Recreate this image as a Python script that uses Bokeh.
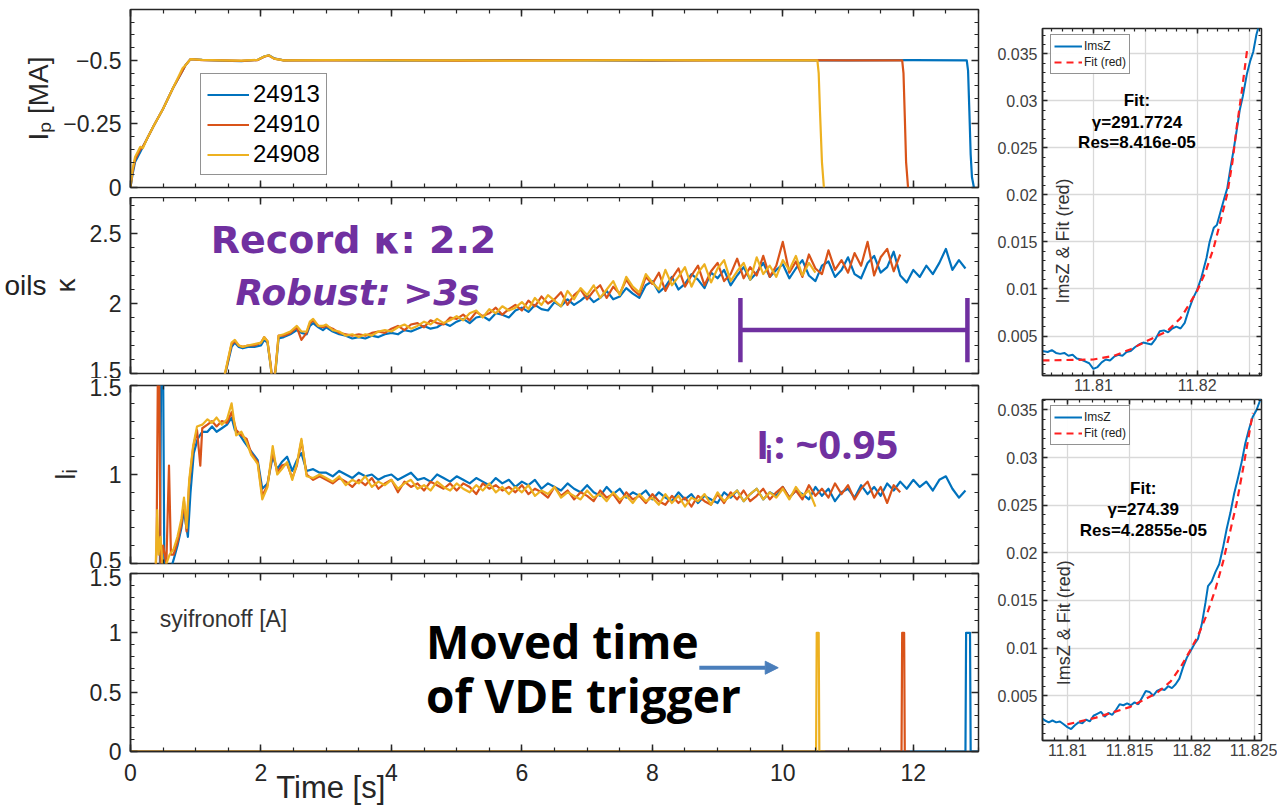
from bokeh.plotting import figure
from bokeh.models import (Range1d, FixedTicker, LinearAxis, Label, Legend,
                          LegendItem, Arrow, NormalHead)
from bokeh.layouts import row, column
from bokeh.embed import file_html
from bokeh.resources import INLINE

BLUE = "#0072BD"; ORANGE = "#D95319"; YELLOW = "#EDB120"
PURPLE = "#7030A0"; AXC = "#262626"; ARROW_BLUE = "#4A7EBB"
TICKF = "Liberation Sans"

shots = ["24913", "24910", "24908"]

# ---------------- Ip [MA] ----------------
ip_t_blue = [0.0, 0.03, 0.07, 0.11, 0.15, 0.19, 0.25, 0.35, 0.5, 0.65, 0.8, 0.84, 0.92, 1.1, 1.4, 1.7,
             1.95, 2.05, 2.12, 2.2, 2.35, 3.0, 4.0, 5.0, 6.0, 7.0, 8.0, 9.0, 10.0, 11.0, 12.0,
             12.82, 12.84, 12.86, 12.88, 12.90, 12.93]
ip_blue = [0.0, -0.05, -0.10, -0.12, -0.14, -0.16, -0.19, -0.24, -0.31, -0.39, -0.46, -0.48, -0.505,
           -0.502, -0.499, -0.497, -0.502, -0.515, -0.52, -0.508, -0.5, -0.501, -0.499, -0.5, -0.501,
           -0.5, -0.499, -0.501, -0.5, -0.5, -0.501, -0.5, -0.46, -0.3, -0.13, -0.04, 0.0]
ip_t_orange = [0.0, 0.03, 0.07, 0.11, 0.15, 0.19, 0.25, 0.35, 0.5, 0.65, 0.8, 0.84, 0.92, 1.1, 1.4, 1.7,
               1.95, 2.05, 2.12, 2.2, 2.35, 3.0, 4.0, 5.0, 6.0, 7.0, 8.0, 9.0, 10.0, 11.0, 11.5,
               11.83, 11.85, 11.87, 11.89, 11.92]
ip_orange = [0.0, -0.06, -0.11, -0.13, -0.15, -0.16, -0.19, -0.24, -0.31, -0.39, -0.46, -0.48, -0.505,
             -0.501, -0.5, -0.498, -0.501, -0.514, -0.519, -0.507, -0.5, -0.5, -0.501, -0.499, -0.5,
             -0.501, -0.5, -0.5, -0.501, -0.5, -0.5, -0.5, -0.45, -0.28, -0.1, 0.0]
ip_t_yellow = [0.0, 0.03, 0.07, 0.11, 0.15, 0.19, 0.25, 0.35, 0.5, 0.65, 0.8, 0.84, 0.92, 1.1, 1.4, 1.7,
               1.95, 2.05, 2.12, 2.2, 2.35, 3.0, 4.0, 5.0, 6.0, 7.0, 8.0, 9.0, 10.0, 10.3,
               10.53, 10.55, 10.57, 10.60, 10.63]
ip_yellow = [0.0, -0.07, -0.12, -0.14, -0.16, -0.155, -0.19, -0.24, -0.31, -0.39, -0.47, -0.48, -0.505,
             -0.502, -0.5, -0.499, -0.502, -0.515, -0.52, -0.507, -0.5, -0.501, -0.5, -0.5, -0.499,
             -0.5, -0.501, -0.5, -0.5, -0.5, -0.5, -0.45, -0.3, -0.1, 0.0]

# ---------------- kappa ----------------
k_early_t = [1.40, 1.48, 1.55, 1.60, 1.66, 1.72, 1.80, 1.90, 2.00, 2.05, 2.10, 2.15, 2.18, 2.22, 2.27,
             2.35, 2.45, 2.55, 2.62, 2.70, 2.75, 2.80, 2.88, 2.95]
k_early_blue = [1.40, 1.55, 1.69, 1.72, 1.69, 1.68, 1.69, 1.69, 1.70, 1.74, 1.72, 1.55, 1.42, 1.50, 1.75,
                1.76, 1.78, 1.81, 1.79, 1.78, 1.84, 1.86, 1.83, 1.81]
k_early_orange = [1.40, 1.56, 1.71, 1.73, 1.70, 1.69, 1.70, 1.70, 1.72, 1.76, 1.73, 1.56, 1.41, 1.52, 1.77,
                  1.77, 1.79, 1.83, 1.74, 1.79, 1.86, 1.88, 1.84, 1.83]
k_early_yellow = [1.40, 1.57, 1.72, 1.74, 1.70, 1.69, 1.70, 1.71, 1.72, 1.76, 1.73, 1.55, 1.40, 1.51, 1.77,
                  1.78, 1.80, 1.84, 1.80, 1.80, 1.87, 1.89, 1.84, 1.84]
# samples every 0.1 s from t = 3.0 s
k_late_blue = [1.83, 1.80, 1.78, 1.77, 1.75, 1.76, 1.75, 1.77, 1.76, 1.78,
               1.79, 1.78, 1.81, 1.80, 1.82, 1.84, 1.82, 1.83, 1.86, 1.84,
               1.87, 1.89, 1.86, 1.90, 1.91, 1.88, 1.93, 1.92, 1.90, 1.95,
               1.97, 1.94, 1.99, 1.96, 1.95, 2.01, 1.98, 2.03, 1.99, 2.02,
               2.06, 2.01, 2.04, 2.09, 2.03, 2.05, 2.11, 2.07, 2.04, 2.13,
               2.16, 2.08, 2.12, 2.19, 2.10, 2.14, 2.21, 2.17, 2.11, 2.22,
               2.18, 2.24, 2.13, 2.20, 2.26, 2.17, 2.22, 2.29, 2.19, 2.24,
               2.28, 2.18, 2.25, 2.31, 2.20, 2.16, 2.27, 2.30, 2.19, 2.24,
               2.33, 2.21, 2.18, 2.29, 2.34, 2.22, 2.26, 2.37, 2.20, 2.15,
               2.24, 2.19, 2.27, 2.21, 2.29, 2.39, 2.24, 2.31, 2.25]
k_late_orange = [1.84, 1.82, 1.79, 1.78, 1.77, 1.78, 1.77, 1.79, 1.80, 1.79,
                 1.82, 1.84, 1.81, 1.85, 1.86, 1.83, 1.88, 1.86, 1.85, 1.90,
                 1.89, 1.92, 1.88, 1.94, 1.91, 1.93, 1.97, 1.92, 1.96, 1.99,
                 1.95, 2.02, 1.98, 2.05, 2.00, 2.03, 2.08, 1.99, 2.06, 2.10,
                 2.03, 2.09, 2.13, 2.04, 2.12, 2.07, 2.17, 2.10, 2.06, 2.19,
                 2.14, 2.22, 2.09, 2.18, 2.25, 2.12, 2.20, 2.27, 2.13, 2.23,
                 2.29, 2.16, 2.21, 2.32, 2.18, 2.26, 2.20, 2.34, 2.19, 2.27,
                 2.44, 2.22, 2.30, 2.19, 2.35, 2.25, 2.21, 2.38, 2.24, 2.31,
                 2.22, 2.36, 2.27, 2.44, 2.20, 2.33, 2.39, 2.23, 2.35]
k_late_yellow = [1.85, 1.81, 1.80, 1.77, 1.78, 1.76, 1.78, 1.77, 1.80, 1.81,
                 1.80, 1.83, 1.85, 1.82, 1.84, 1.87, 1.85, 1.89, 1.86, 1.88,
                 1.91, 1.88, 1.93, 1.95, 1.90, 1.96, 1.93, 1.98, 1.95, 1.97,
                 2.01, 1.96, 2.04, 1.99, 2.06, 2.02, 1.98, 2.09, 2.03, 2.11,
                 2.06, 2.13, 2.04, 2.10, 2.16, 2.06, 2.19, 2.12, 2.08, 2.21,
                 2.15, 2.10, 2.24, 2.13, 2.19, 2.26, 2.12, 2.22, 2.28, 2.15,
                 2.25, 2.31, 2.16, 2.23, 2.29, 2.17, 2.33, 2.21, 2.27, 2.19,
                 2.31, 2.24, 2.34, 2.20, 2.29, 2.22]

# ---------------- li ----------------
li_early_t_blue = [0.43, 0.45, 0.47, 0.50, 0.52, 0.56, 0.60, 0.66, 0.72, 0.78, 0.82, 0.85, 0.88, 0.92,
                   0.97, 1.03, 1.10, 1.18, 1.25, 1.32, 1.40, 1.48, 1.55, 1.60, 1.68, 1.75, 1.85, 1.95,
                   2.02, 2.10, 2.18, 2.25, 2.32, 2.40, 2.48, 2.55, 2.62, 2.70, 2.80, 2.90]
li_early_blue = [0.40, 0.45, 1.60, 1.60, 0.40, 0.42, 0.45, 0.52, 0.60, 0.70, 0.80, 0.72, 0.65, 0.90,
                 1.12, 1.20, 1.24, 1.24, 1.27, 1.24, 1.26, 1.28, 1.32, 1.25, 1.22, 1.18, 1.13, 1.08,
                 0.92, 0.95, 1.10, 1.03, 1.07, 1.10, 1.02, 1.08, 1.12, 1.02, 1.03, 1.01]
li_early_t_orange = [0.38, 0.40, 0.42, 0.44, 0.46, 0.50, 0.55, 0.59, 0.62, 0.66, 0.72, 0.78, 0.82, 0.86,
                     0.90, 0.96, 1.02, 1.07, 1.10, 1.18, 1.25, 1.32, 1.40, 1.48, 1.55, 1.62, 1.70, 1.78,
                     1.85, 1.95, 2.02, 2.10, 2.18, 2.25, 2.32, 2.40, 2.48, 2.55, 2.62, 2.70, 2.80, 2.90]
li_early_orange = [0.40, 0.60, 1.60, 1.60, 0.50, 0.60, 0.50, 1.05, 0.55, 0.55, 0.62, 0.72, 0.85, 0.68,
                   0.95, 1.15, 1.25, 1.05, 1.26, 1.28, 1.30, 1.27, 1.30, 1.29, 1.35, 1.25, 1.22, 1.20,
                   1.12, 1.07, 0.88, 0.94, 1.13, 1.01, 1.05, 1.06, 0.98, 1.05, 1.19, 1.00, 0.97, 0.99]
li_early_t_yellow = [0.38, 0.41, 0.43, 0.46, 0.50, 0.55, 0.60, 0.66, 0.72, 0.78, 0.82, 0.86, 0.90, 0.96,
                     1.02, 1.10, 1.18, 1.25, 1.32, 1.40, 1.48, 1.55, 1.62, 1.70, 1.78, 1.85, 1.95, 2.02,
                     2.10, 2.18, 2.25, 2.32, 2.40, 2.48, 2.55, 2.62, 2.70, 2.80, 2.90]
li_early_yellow = [0.40, 0.80, 0.55, 0.65, 0.45, 0.50, 0.55, 0.58, 0.65, 0.75, 0.87, 0.70, 0.97, 1.16,
                   1.27, 1.28, 1.31, 1.29, 1.32, 1.28, 1.31, 1.40, 1.22, 1.24, 1.18, 1.11, 1.06, 0.86,
                   0.93, 1.16, 1.00, 1.03, 1.07, 0.97, 1.06, 1.20, 0.99, 0.98, 1.00]
# samples every 0.1 s from t = 3.0 s
li_late_blue = [1.01, 0.99, 1.02, 1.00, 0.98, 1.01, 0.99, 1.00, 0.97, 0.99,
                1.00, 0.97, 0.99, 1.01, 0.97, 0.98, 0.96, 1.00, 0.98, 0.96,
                0.99, 0.97, 0.95, 0.98, 0.96, 0.94, 0.98, 0.95, 0.97, 0.93,
                0.96, 0.94, 0.97, 0.92, 0.95, 0.93, 0.91, 0.95, 0.92, 0.90,
                0.94, 0.90, 0.88, 0.93, 0.89, 0.92, 0.87, 0.90, 0.88, 0.91,
                0.86, 0.90, 0.87, 0.85, 0.90, 0.86, 0.89, 0.84, 0.88, 0.86,
                0.84, 0.90, 0.87, 0.91, 0.85, 0.89, 0.92, 0.86, 0.90, 0.88,
                0.93, 0.87, 0.91, 0.89, 0.86, 0.93, 0.88, 0.92, 0.85, 0.90,
                0.92, 0.87, 0.94, 0.89, 0.93, 0.88, 0.95, 0.91, 0.96, 0.92,
                0.97, 0.93, 0.96, 0.91, 0.97, 0.99, 0.92, 0.87, 0.91]
li_late_orange = [0.97, 0.95, 0.98, 0.96, 0.93, 0.97, 0.94, 0.98, 0.92, 0.95,
                  0.97, 0.90, 0.96, 0.93, 0.95, 0.91, 0.96, 0.94, 0.92, 0.95,
                  0.91, 0.95, 0.93, 0.89, 0.95, 0.92, 0.94, 0.91, 0.93, 0.90,
                  0.94, 0.89, 0.92, 0.90, 0.87, 0.93, 0.88, 0.91, 0.86, 0.90,
                  0.88, 0.85, 0.91, 0.87, 0.89, 0.84, 0.90, 0.86, 0.88, 0.84,
                  0.89, 0.85, 0.83, 0.88, 0.84, 0.87, 0.82, 0.88, 0.85, 0.83,
                  0.89, 0.84, 0.90, 0.86, 0.91, 0.85, 0.88, 0.92, 0.86, 0.90,
                  0.93, 0.87, 0.91, 0.86, 0.94, 0.88, 0.92, 0.87, 0.95, 0.89,
                  0.94, 0.86, 0.92, 0.96, 0.87, 0.93, 0.84, 0.94, 0.90]
li_late_yellow = [0.98, 0.96, 0.99, 0.94, 0.97, 0.95, 0.99, 0.93, 0.96, 0.94,
                  0.97, 0.92, 0.95, 0.97, 0.92, 0.94, 0.91, 0.96, 0.93, 0.91,
                  0.95, 0.92, 0.90, 0.94, 0.91, 0.95, 0.90, 0.93, 0.89, 0.93,
                  0.90, 0.94, 0.88, 0.91, 0.89, 0.93, 0.87, 0.90, 0.88, 0.86,
                  0.91, 0.87, 0.89, 0.85, 0.90, 0.86, 0.88, 0.84, 0.89, 0.85,
                  0.87, 0.83, 0.89, 0.84, 0.88, 0.82, 0.87, 0.85, 0.89, 0.83,
                  0.90, 0.85, 0.88, 0.91, 0.85, 0.89, 0.92, 0.86, 0.90, 0.87,
                  0.92, 0.86, 0.93, 0.88, 0.91, 0.82]

# ---------------- syifronoff [A] ----------------
sy_t_blue = [0.0, 12.80, 12.81, 12.87, 12.88, 13.0]
sy_blue = [0, 0, 1, 1, 0, 0]
sy_t_orange = [0.0, 11.82, 11.83, 11.86, 11.87, 11.95]
sy_orange = [0, 0, 1, 1, 0, 0]
sy_t_yellow = [0.0, 10.51, 10.52, 10.55, 10.56, 10.65]
sy_yellow = [0, 0, 1, 1, 0, 0]

# ---------------- growth-rate fits ----------------
r1_t = [11.8051, 11.8056, 11.8060, 11.8064, 11.8068, 11.8072, 11.8076, 11.8080, 11.8084, 11.8088,
        11.8092, 11.8096, 11.8100, 11.8104, 11.8108, 11.8112, 11.8116, 11.8120, 11.8124, 11.8128,
        11.8132, 11.8136, 11.8140, 11.8144, 11.8148, 11.8152, 11.8156, 11.8160, 11.8164, 11.8168,
        11.8172, 11.8176, 11.8180, 11.8184, 11.8188, 11.8192, 11.8196, 11.8200, 11.8204, 11.8209,
        11.8212, 11.8216, 11.8219, 11.8222, 11.8226, 11.8229, 11.8232, 11.8235, 11.8238, 11.8241,
        11.8244, 11.8248, 11.8251, 11.8254, 11.8257, 11.8260]
r1_imsz = [0.0034, 0.0033, 0.0035, 0.0032, 0.0031, 0.0032, 0.0029, 0.0030, 0.0026, 0.0025,
           0.0023, 0.0021, 0.0015, 0.0017, 0.0022, 0.0025, 0.0024, 0.0028, 0.0030, 0.0029,
           0.0033, 0.0034, 0.0038, 0.0041, 0.0043, 0.0042, 0.0041, 0.0047, 0.0055, 0.0056,
           0.0054, 0.0058, 0.0060, 0.0058, 0.0064, 0.0078, 0.0090, 0.0099, 0.0112, 0.0133,
           0.0150, 0.0165, 0.0168, 0.0180, 0.0196, 0.0207, 0.0228, 0.0247, 0.0268, 0.0290,
           0.0305, 0.0329, 0.0342, 0.0352, 0.0370, 0.0382]
r1_fit_t = [11.8051, 11.8100, 11.8120, 11.8136, 11.8152, 11.8171, 11.8184, 11.8192, 11.8200, 11.8208,
            11.8216, 11.8222, 11.8229, 11.8234, 11.8238, 11.8243, 11.8248]
r1_fit = [0.0024, 0.0025, 0.0029, 0.0036, 0.0045, 0.0055, 0.0069, 0.0083, 0.0098, 0.0118,
          0.0144, 0.0170, 0.0201, 0.0235, 0.0271, 0.0310, 0.0353]

r2_t = [11.8079, 11.8082, 11.8085, 11.8088, 11.8091, 11.8094, 11.8097, 11.8100, 11.8103, 11.8106,
        11.8109, 11.8112, 11.8115, 11.8118, 11.8121, 11.8124, 11.8127, 11.8130, 11.8133, 11.8136,
        11.8139, 11.8142, 11.8145, 11.8148, 11.8151, 11.8154, 11.8157, 11.8160, 11.8163, 11.8166,
        11.8169, 11.8172, 11.8175, 11.8178, 11.8181, 11.8184, 11.8187, 11.8190, 11.8193, 11.8196,
        11.8199, 11.8202, 11.8205, 11.8208, 11.8211, 11.8213, 11.8216, 11.8219, 11.8222, 11.8225,
        11.8228, 11.8231, 11.8234, 11.8237, 11.8240, 11.8243, 11.8246, 11.8249, 11.8252, 11.8256]
r2_imsz = [0.0027, 0.0024, 0.0022, 0.0024, 0.0022, 0.0023, 0.0020, 0.0017, 0.0015, 0.0019,
           0.0022, 0.0021, 0.0025, 0.0023, 0.0029, 0.0031, 0.0033, 0.0028, 0.0032, 0.0030,
           0.0035, 0.0041, 0.0040, 0.0042, 0.0040, 0.0043, 0.0041, 0.0048, 0.0055, 0.0054,
           0.0050, 0.0055, 0.0057, 0.0056, 0.0060, 0.0058, 0.0062, 0.0068, 0.0080, 0.0090,
           0.0097, 0.0104, 0.0110, 0.0125, 0.0148, 0.0165, 0.0170, 0.0180, 0.0188, 0.0205,
           0.0225, 0.0242, 0.0262, 0.0278, 0.0295, 0.0315, 0.0330, 0.0343, 0.0350, 0.0364]
r2_fit_t = [11.8100, 11.8123, 11.8150, 11.8172, 11.8183, 11.8191, 11.8198, 11.8205, 11.8212, 11.8219,
            11.8225, 11.8230, 11.8236, 11.8241, 11.8245, 11.8249]
r2_fit = [0.0020, 0.0027, 0.0038, 0.0053, 0.0065, 0.0080, 0.0096, 0.0113, 0.0135, 0.0162,
          0.0190, 0.0218, 0.0252, 0.0287, 0.0317, 0.0347]

x_major = [0, 2, 4, 6, 8, 10, 12]
x_minor = [i * 0.5 for i in range(27)]


def late_t(vals):
    return [round(3.0 + 0.1 * i, 1) for i in range(len(vals))]


def style_axis(ax, ticker, overrides, font_size="23px", standoff=9, color=AXC,
               maj_len=7, min_len=4):
    ax.ticker = ticker
    ax.axis_line_color = AXC
    ax.axis_line_width = 1.5
    ax.major_tick_line_color = AXC
    ax.major_tick_line_width = 1.5
    ax.minor_tick_line_color = AXC
    ax.minor_tick_line_width = 1.2
    ax.major_tick_in = maj_len
    ax.major_tick_out = 0
    ax.minor_tick_in = min_len
    ax.minor_tick_out = 0
    if overrides:
        ax.major_label_overrides = overrides
    ax.major_label_text_font_size = font_size
    ax.major_label_text_font = TICKF
    ax.major_label_text_color = color
    ax.major_label_standoff = standoff


def deco(p, side, majors, minors, maj_len=7, min_len=4):
    """Label-free mirrored tick marks (box-style axes)."""
    for pos, ln, lw in ((majors, maj_len, 1.5), (minors, min_len, 1.2)):
        ax = LinearAxis(ticker=FixedTicker(ticks=[], minor_ticks=list(pos)),
                        axis_line_color=None, major_tick_line_color=None,
                        minor_tick_line_color=AXC, minor_tick_line_width=lw,
                        minor_tick_in=ln, minor_tick_out=0,
                        major_label_standoff=0, axis_label_standoff=0)
        p.add_layout(ax, side)


def left_fig(height, top, bottom, yr, yticks, yminor, ylabels, ylabel=None, xlabels=False):
    p = figure(width=982, height=height, x_range=Range1d(0, 13), y_range=yr,
               output_backend="svg", toolbar_location=None,
               x_axis_location="below" if xlabels else None,
               min_border_left=130, min_border_right=4,
               min_border_top=top, min_border_bottom=bottom)
    p.grid.visible = False
    p.outline_line_color = AXC
    p.outline_line_width = 1.5
    p.background_fill_color = "white"
    p.border_fill_color = "white"
    yax = p.yaxis[0]
    style_axis(yax, FixedTicker(ticks=yticks, minor_ticks=yminor), ylabels)
    if ylabel:
        yax.axis_label = ylabel
        yax.axis_label_text_font = TICKF
        yax.axis_label_text_font_size = "28px"
        yax.axis_label_text_font_style = "normal"
        yax.axis_label_text_color = AXC
        yax.axis_label_standoff = 6
    if xlabels:
        style_axis(p.xaxis[0], FixedTicker(ticks=x_major, minor_ticks=x_minor),
                   None, standoff=12)
    else:
        deco(p, "below", x_major, x_minor)
    deco(p, "above", x_major, x_minor)
    deco(p, "right", yticks, yminor)
    return p


def draw3(p, series):
    rs = []
    for (t, v), c in zip(series, [BLUE, ORANGE, YELLOW]):
        rs.append(p.line(t, v, line_color=c, line_width=2.2, line_join="round"))
    return rs


def txt(p, x, y, text, size, color=PURPLE, font="DejaVu Sans", style="bold",
        align="left", baseline="middle", angle=0.0):
    p.add_layout(Label(x=x, y=y, text=text, text_font=font, text_font_style=style,
                       text_font_size=size, text_color=color, text_align=align,
                       text_baseline=baseline, angle=angle))


# ---- panel 1: Ip ----
p1 = left_fig(197, 9, 10, Range1d(0, -0.7), [0, -0.25, -0.5],
              [-0.05 * i for i in range(15)],
              {0: "0", -0.25: "\u22120.25", -0.5: "\u22120.5"}, ylabel="I\u209a [MA]")
r_ip = draw3(p1, [(ip_t_blue, ip_blue), (ip_t_orange, ip_orange), (ip_t_yellow, ip_yellow)])
leg = Legend(items=[LegendItem(label=s, renderers=[r]) for s, r in zip(shots, r_ip)],
             location=(70, 12), label_text_font=TICKF, label_text_font_size="24px",
             label_text_color="black", glyph_width=42, glyph_height=25, label_height=25,
             spacing=2, padding=6, margin=0, label_standoff=4,
             border_line_color=AXC, border_line_width=1.5, background_fill_alpha=1)
p1.add_layout(leg)

# ---- panel 2: kappa ----
p2 = left_fig(181, 0, 5, Range1d(1.5, 2.757), [1.5, 2, 2.5],
              [1.5 + 0.1 * i for i in range(13)],
              {1.5: "1.5", 2: "2", 2.5: "2.5"}, ylabel="\u03ba")
oils_ax = LinearAxis(ticker=FixedTicker(ticks=[]), axis_line_color=None,
                     major_tick_line_color=None, minor_tick_line_color=None,
                     axis_label="oils", axis_label_orientation="horizontal",
                     axis_label_text_font=TICKF, axis_label_text_font_size="28px",
                     axis_label_text_font_style="normal", axis_label_text_color="#222222",
                     axis_label_standoff=0, major_label_standoff=0)
p2.add_layout(oils_ax, "left")
draw3(p2, [(k_early_t + late_t(k_late_blue), k_early_blue + k_late_blue),
           (k_early_t + late_t(k_late_orange), k_early_orange + k_late_orange),
           (k_early_t + late_t(k_late_yellow), k_early_yellow + k_late_yellow)])
bracket_x = [9.35, 12.83]
bracket_y = [1.58, 2.04]
bracket_mid = 1.81
for bx in bracket_x:
    p2.line([bx, bx], bracket_y, line_color=PURPLE, line_width=4.5)
p2.line(bracket_x, [bracket_mid, bracket_mid], line_color=PURPLE, line_width=4.5)
txt(p2, 1.23, 2.457, "Record \u03ba: 2.2", "38px")
txt(p2, 1.61, 2.079, "Robust: >3s", "36px", style="bold italic")

# ---- panel 3: li ----
p3 = left_fig(190, 7, 5, Range1d(0.5, 1.5), [0.5, 1, 1.5],
              [0.5 + 0.1 * i for i in range(11)],
              {0.5: "0.5", 1: "1", 1.5: "1.5"}, ylabel="l\u1d62")
draw3(p3, [(li_early_t_blue + late_t(li_late_blue), li_early_blue + li_late_blue),
           (li_early_t_orange + late_t(li_late_orange), li_early_orange + li_late_orange),
           (li_early_t_yellow + late_t(li_late_yellow), li_early_yellow + li_late_yellow)])
txt(p3, 9.59, 1.174, "I", "40px", font="Open Sans")
txt(p3, 9.73, 1.118, "i", "24px", font="Open Sans")
txt(p3, 9.86, 1.174, ": ~0.95", "40px", font="Open Sans")

# ---- panel 4: syifronoff ----
p4 = left_fig(240, 5, 57, Range1d(0, 1.5), [0, 0.5, 1, 1.5],
              [0.1 * i for i in range(16)],
              {0: "0", 0.5: "0.5", 1: "1", 1.5: "1.5"}, xlabels=True)
time_label_pos = 3.07
time_ax = LinearAxis(ticker=FixedTicker(ticks=[time_label_pos]),
                     major_label_overrides={time_label_pos: "Time [s]"},
                     axis_line_color=None, major_tick_line_color=None,
                     minor_tick_line_color=None, major_label_text_font=TICKF,
                     major_label_text_font_size="31px", major_label_text_color=AXC,
                     major_label_standoff=-20)
p4.add_layout(time_ax, "below")
draw3(p4, [(sy_t_blue, sy_blue), (sy_t_orange, sy_orange), (sy_t_yellow, sy_yellow)])
txt(p4, 0.45, 1.12, "syifronoff [A]", "23px", color="#333333", font=TICKF, style="normal")
txt(p4, 4.53, 0.935, "Moved time", "46px", color="black", font="Open Sans")
txt(p4, 4.53, 0.48, "of VDE trigger", "46px", color="black", font="Open Sans")
p4.add_layout(Arrow(end=NormalHead(size=13, fill_color=ARROW_BLUE, line_color=ARROW_BLUE),
                    x_start=8.72, y_start=0.706, x_end=9.93, y_end=0.706,
                    line_color=ARROW_BLUE, line_width=4))


# ---- right panels ----
def right_fig(height, top, bottom, xr, yr, xt, xlab, grid_x, data, fit):
    p = figure(width=295, height=height, x_range=xr, y_range=yr,
               output_backend="svg", toolbar_location=None,
               min_border_left=60, min_border_right=16,
               min_border_top=top, min_border_bottom=bottom)
    p.outline_line_color = AXC
    p.outline_line_width = 1.5
    yticks = [0.005, 0.01, 0.015, 0.02, 0.025, 0.03, 0.035]
    ylab = {0.005: "0.005", 0.01: "0.01", 0.015: "0.015", 0.02: "0.02",
            0.025: "0.025", 0.03: "0.03", 0.035: "0.035"}
    yminor = [0.001 * i for i in range(1, 39)]
    xminor = [round(11.805 + 0.001 * i, 3) for i in range(22)]
    style_axis(p.xaxis[0], FixedTicker(ticks=xt, minor_ticks=xminor), xlab,
               font_size="16px", standoff=3, color="#404040", maj_len=5, min_len=3)
    style_axis(p.yaxis[0], FixedTicker(ticks=yticks, minor_ticks=yminor), ylab,
               font_size="16px", standoff=5, color="#404040", maj_len=5, min_len=3)
    deco(p, "right", yticks, yminor, 5, 3)
    deco(p, "above", xt, xminor, 5, 3)
    p.xgrid.ticker = FixedTicker(ticks=grid_x)
    p.ygrid.ticker = FixedTicker(ticks=yticks)
    p.grid.grid_line_color = "#d9d9d9"
    p.grid.grid_line_width = 1.3
    rb = p.line(data[0], data[1], line_color=BLUE, line_width=2)
    rr = p.line(fit[0], fit[1], line_color="#FF2020", line_width=2.2, line_dash="7 5")
    lg = Legend(items=[LegendItem(label="ImsZ", renderers=[rb]),
                       LegendItem(label="Fit (red)", renderers=[rr])],
                location=(8, height - top - bottom - 38 - 8), label_text_font=TICKF,
                label_text_font_size="12px", label_text_color="#222222",
                glyph_width=28, glyph_height=16, label_height=16, spacing=0, padding=3,
                margin=0, label_standoff=2, border_line_color=AXC, border_line_width=1.5)
    p.add_layout(lg)
    return p


q1 = right_fig(397, 28, 22, Range1d(11.8051, 11.8262), Range1d(0.0008, 0.0377),
               [11.81, 11.82], {11.81: "11.81", 11.82: "11.82"},
               [11.805, 11.81, 11.815, 11.82, 11.825],
               (r1_t, r1_imsz), (r1_fit_t, r1_fit))
txt(q1, 11.8071, 0.0151, "ImsZ & Fit (red)", "18px", color="#333333", font=TICKF,
    style="normal", align="center", angle=1.5708)
for s, yy in [("Fit:", 0.0300), ("\u03b3=291.7724", 0.02766), ("Res=8.416e-05", 0.02553)]:
    txt(q1, 11.8142, yy, s, "17px", color="black", font=TICKF, align="center")

q2 = right_fig(370, 2, 27, Range1d(11.808, 11.8256), Range1d(0.0003, 0.0361),
               [11.81, 11.815, 11.82, 11.825],
               {11.81: "11.81", 11.815: "11.815", 11.82: "11.82", 11.825: "11.825"},
               [11.81, 11.815, 11.82, 11.825],
               (r2_t, r2_imsz), (r2_fit_t, r2_fit))
txt(q2, 11.8097, 0.01267, "ImsZ & Fit (red)", "18px", color="#333333", font=TICKF,
    style="normal", align="center", angle=1.5708)
for s, yy in [("Fit:", 0.02679), ("\u03b3=274.39", 0.02459), ("Res=4.2855e-05", 0.02239)]:
    txt(q2, 11.8161, yy, s, "17px", color="black", font=TICKF, align="center")

layout = row(column(p1, p2, p3, p4), column(q1, q2))
open("out.html", "w").write(file_html(layout, INLINE))
